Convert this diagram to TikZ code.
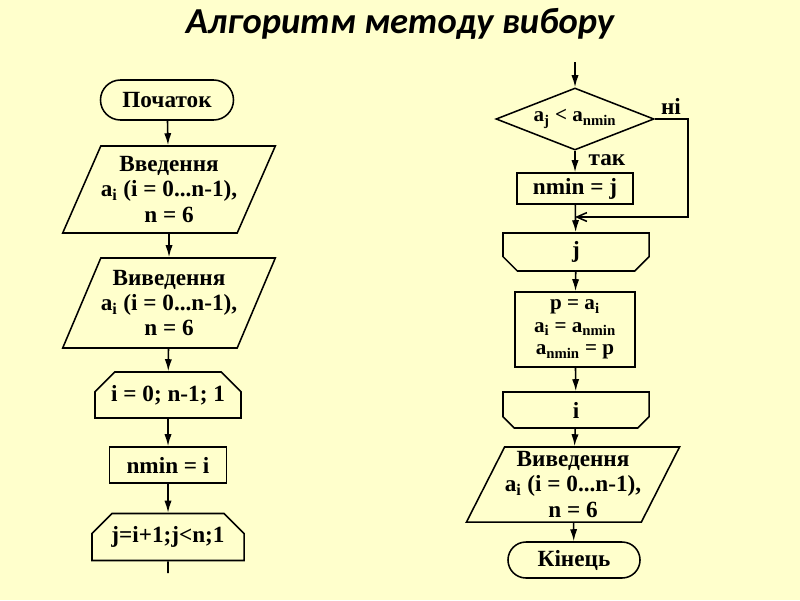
\documentclass[tikz,border=0pt]{standalone}
\usepackage{fontspec}
\setmainfont{Liberation Serif}
\newfontfamily\titlefont{Carlito}
\usetikzlibrary{shapes.geometric, shapes.misc, arrows.meta}
\definecolor{sheet}{HTML}{FFFFCC}

\begin{document}
\begin{tikzpicture}[x=0.025cm, y=-0.025cm,
        every node/.style={font=\bfseries\fontsize{16.5}{18}\selectfont, align=center},
        flow/.style={line width=1.1pt, -{Latex[length=3mm,width=1.8mm]}},
        terminal/.style={draw, line width=1.1pt, rounded rectangle, minimum width=3.325cm, minimum height=1cm, inner sep=0pt},
        io/.style={draw, line width=1.1pt, trapezium, trapezium left angle=60, trapezium right angle=120, trapezium stretches body, minimum width=5.2cm, minimum height=2.175cm, inner sep=0pt},
        proc/.style={draw, line width=1.1pt, rectangle, inner sep=0pt},
        loopstart/.style={draw, line width=1.1pt, chamfered rectangle, chamfered rectangle corners={north west, north east}, chamfered rectangle xsep=0.25cm, chamfered rectangle ysep=0.25cm, minimum width=3.65cm, inner sep=0pt},
        loopend/.style={draw, line width=1.1pt, chamfered rectangle, chamfered rectangle corners={south west, south east}, chamfered rectangle xsep=0.3cm, chamfered rectangle ysep=0.3cm, minimum width=3.65cm, inner sep=0pt},
        test/.style={draw, line width=1.1pt, diamond, aspect=2.6, minimum width=3.95cm, minimum height=1.55cm, inner sep=0pt}]
        \fill[sheet] (0,0) rectangle (800,600);
        \useasboundingbox (0,0) rectangle (800,600);

        \node[font=\titlefont\bfseries\itshape\fontsize{26}{30}\selectfont] at (400,24) (title) {Алгоритм методу вибору};

        \node[terminal] at (167,100) (start) {Початок};
        \node[io] at (169,189.5) (in) {Введення\\a\textsubscript{i} (i = 0...n-1),\\n = 6};
        \node[io, minimum height=2.25cm] at (169,303) (out) {Виведення\\a\textsubscript{i} (i = 0...n-1),\\n = 6};
        \node[loopstart, minimum height=1.15cm] at (168,395) (iloop) {i = 0; n-1; 1};
        \node[proc, minimum width=2.925cm, minimum height=0.9cm] at (168,465) (nmini) {nmin = i};
        \node[loopstart, minimum width=3.8cm, minimum height=1.175cm] at (168,537) (jloop) {j=i+1;j<n;1};
        \coordinate (jtail) at (168,573);

        \draw[flow] (start) -- (in);
        \draw[flow] (in) -- (out);
        \draw[flow] (out) -- (iloop);
        \draw[flow] (iloop) -- (nmini);
        \draw[flow] (nmini) -- (jloop);
        \draw[line width=1.1pt] (jloop) -- (jtail);

        \coordinate (rtop) at (575,62);
        \node[test, font=\bfseries\fontsize{15}{18}\selectfont] at (575,119) (cmp) {a\textsubscript{j} < a\textsubscript{nmin}};
        \node at (671,106) (no) {ні};
        \node at (607,160) (yes) {так};
        \node[proc, minimum width=2.9cm, minimum height=0.775cm] at (575,188.5) (nminj) {nmin = j};
        \coordinate (nocorner) at (688,119);
        \coordinate (nobottom) at (688,217);
        \coordinate (merge) at (575,217);
        \node[loopend, minimum height=0.95cm] at (576,252) (jend) {j};
        \node[proc, minimum width=3cm, minimum height=1.875cm, font=\bfseries\fontsize{15}{16}\selectfont] at (575,329.5) (swap) {p = a\textsubscript{i}\\a\textsubscript{i} = a\textsubscript{nmin}\\a\textsubscript{nmin} = p};
        \node[loopend, minimum height=0.9cm] at (576,410) (iend) {i};
        \node[io, minimum width=5.325cm, minimum height=1.875cm] at (573,484.5) (res) {Виведення\\a\textsubscript{i} (i = 0...n-1),\\n = 6};
        \node[terminal, minimum width=3.3cm, minimum height=0.9cm] at (574,560) (stop) {Кінець};

        \draw[flow] (rtop) -- (cmp);
        \draw[flow] (cmp) -- (nminj);
        \draw[line width=1.1pt, -{Straight Barb[length=2.5mm,width=2.2mm]}] (cmp.east) -- (nocorner) -- (nobottom) -- (merge);
        \draw[flow] (nminj) -- (jend);
        \draw[flow] (jend) -- (swap);
        \draw[flow] (swap) -- (iend);
        \draw[flow] (iend) -- (res);
        \draw[flow] (res) -- (stop);
    \end{tikzpicture}
\end{document}
